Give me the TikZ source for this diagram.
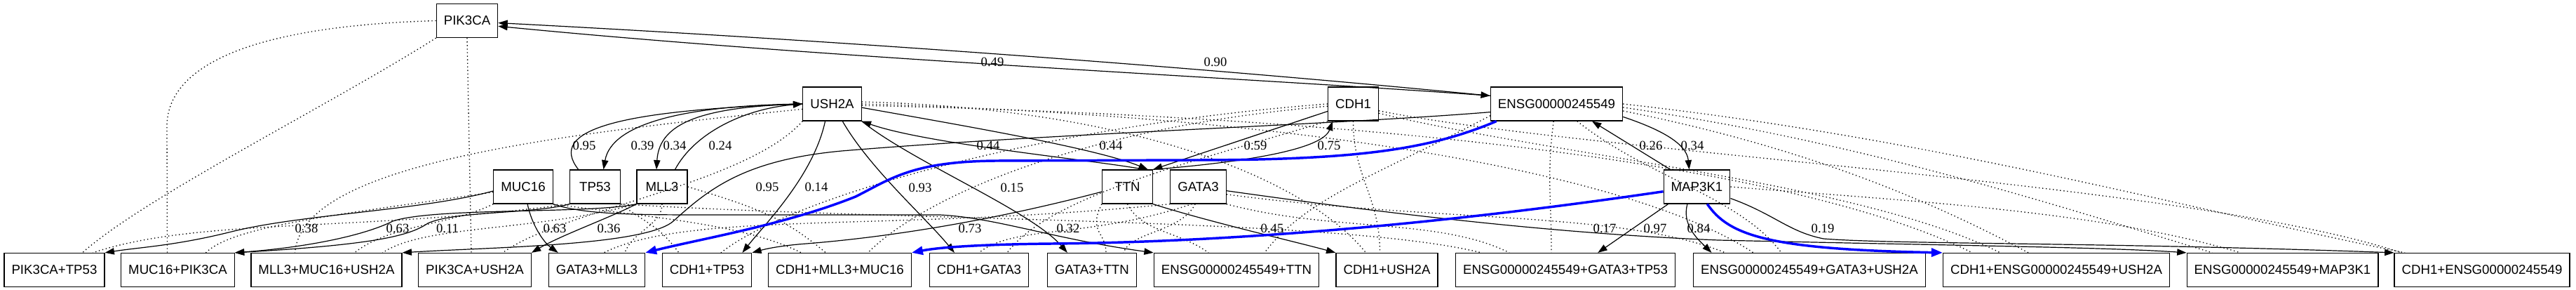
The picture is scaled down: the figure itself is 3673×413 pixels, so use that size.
\documentclass[tikz,border=0pt]{standalone}
\usepackage{fontspec}
\setmainfont{Liberation Serif}
\newfontfamily\genefont{Liberation Sans}
\usetikzlibrary{arrows.meta,calc}

\tikzset{
  gene/.style={draw, line width=0.9pt, minimum width=54pt, minimum height=36pt,
    inner xsep=7.9pt, inner ysep=0pt, font={\genefont\fontsize{14}{16}\selectfont}},
  weight/.style={inner sep=0pt, font={\fontsize{14}{16}\selectfont}},
  link/.style={line width=0.9pt, ->, >={Triangle[length=10pt,width=7pt]}},
  hit/.style={link, blue, line width=2.6pt, >={Triangle[length=12pt,width=9pt]}},
  member/.style={line width=1pt, dash pattern=on 1pt off 2.8pt}
}

\begin{document}
\begin{tikzpicture}[x=0.75pt,y=-0.75pt]
\useasboundingbox (0,0) rectangle (3673,413);

% single genes
\node[gene] (PIK3CA) at (666,29.5) {PIK3CA};
\node[gene] (USH2A) at (1186.5,148) {USH2A};
\node[gene] (CDH1) at (1929.5,148) {CDH1};
\node[gene] (ENSG) at (2219.5,148) {ENSG00000245549};
\node[gene] (MUC16) at (746,266) {MUC16};
\node[gene] (TP53) at (848.5,266) {TP53};
\node[gene] (MLL3) at (944,266) {MLL3};
\node[gene] (TTN) at (1607.5,266) {TTN};
\node[gene] (GATA3) at (1708.5,266) {GATA3};
\node[gene] (MAP3K1) at (2419.5,266) {MAP3K1};

% combinations
\node[gene] (PIK3CA+TP53) at (77.5,384.5) {PIK3CA+TP53};
\node[gene] (MUC16+PIK3CA) at (253.5,384.5) {MUC16+PIK3CA};
\node[gene] (MLL3+MUC16+USH2A) at (465.5,384.5) {MLL3+MUC16+USH2A};
\node[gene] (PIK3CA+USH2A) at (677,384.5) {PIK3CA+USH2A};
\node[gene] (GATA3+MLL3) at (851,384.5) {GATA3+MLL3};
\node[gene] (CDH1+TP53) at (1008,384.5) {CDH1+TP53};
\node[gene] (CDH1+MLL3+MUC16) at (1197.5,384.5) {CDH1+MLL3+MUC16};
\node[gene] (CDH1+GATA3) at (1396,384.5) {CDH1+GATA3};
\node[gene] (GATA3+TTN) at (1557,384.5) {GATA3+TTN};
\node[gene] (ENSG+TTN) at (1763,384.5) {ENSG00000245549+TTN};
\node[gene] (CDH1+USH2A) at (1977.5,384.5) {CDH1+USH2A};
\node[gene] (ENSG+GATA3+TP53) at (2232,384.5) {ENSG00000245549+GATA3+TP53};
\node[gene] (ENSG+GATA3+USH2A) at (2580,384.5) {ENSG00000245549+GATA3+USH2A};
\node[gene] (CDH1+ENSG+USH2A) at (2932,384.5) {CDH1+ENSG00000245549+USH2A};
\node[gene] (ENSG+MAP3K1) at (3254.5,384.5) {ENSG00000245549+MAP3K1};
\node[gene] (CDH1+ENSG) at (3539,384.5) {CDH1+ENSG00000245549};

% membership (dotted)
\draw[member] (PIK3CA.south west) .. controls +(-150,95) and +(90,-80) .. ($(PIK3CA+TP53.north)+(40,0)$);
\draw[member] (PIK3CA.west) .. controls +(-280,8) and +(0,-80) .. (238,180) -- ($(MUC16+PIK3CA.north)+(-15,0)$);
\draw[member] (PIK3CA.south) -- ($(PIK3CA+USH2A.north)+(-5,0)$);
\draw[member] (MUC16.190) .. controls +(-200,30) and +(40,-40) .. ($(MUC16+PIK3CA.north)+(40,0)$);
\draw[member] (MUC16.south west) .. controls +(-60,30) and +(50,-40) .. ($(MLL3+MUC16+USH2A.north)+(40,0)$);
\draw[member] (MUC16.south east) .. controls +(150,20) and +(-80,-40) .. ($(CDH1+MLL3+MUC16.north)+(-55,0)$);
\draw[member] (TP53.south west) .. controls +(-300,40) and +(150,-50) .. ($(PIK3CA+TP53.north)+(55,0)$);
\draw[member] (TP53.south east) .. controls +(40,30) and +(-30,-40) .. ($(CDH1+TP53.north)+(-40,0)$);
\draw[member] (TP53.south east) .. controls +(400,25) and +(-200,-50) .. ($(ENSG+GATA3+TP53.north)+(-120,0)$);
\draw[member] (MLL3.south west) .. controls +(-150,40) and +(60,-40) .. ($(MLL3+MUC16+USH2A.north)+(80,0)$);
\draw[member] (MLL3.south) .. controls +(0,30) and +(10,-30) .. ($(GATA3+MLL3.north)+(40,0)$);
\draw[member] (MLL3.east) .. controls +(100,30) and +(-60,-50) .. ($(CDH1+MLL3+MUC16.north)+(-20,0)$);
\draw[member] (USH2A.190) .. controls +(-400,40) and +(10,-120) .. ($(MLL3+MUC16+USH2A.north)+(-45,0)$);
\draw[member] (USH2A.south west) .. controls +(-80,90) and +(80,-60) .. ($(PIK3CA+USH2A.north)+(40,0)$);
\draw[member] (USH2A.4) .. controls +(400,10) and +(-80,-100) .. ($(CDH1+USH2A.north)+(-30,0)$);
\draw[member] (USH2A.0) .. controls +(700,20) and +(-150,-100) .. ($(ENSG+GATA3+USH2A.north)+(-80,0)$);
\draw[member] (USH2A.-3) .. controls +(900,20) and +(-200,-100) .. ($(CDH1+ENSG+USH2A.north)+(-120,0)$);
\draw[member] (CDH1.180) .. controls +(-400,30) and +(100,-80) .. ($(CDH1+TP53.north)+(20,0)$);
\draw[member] (CDH1.185) .. controls +(-350,30) and +(80,-80) .. ($(CDH1+MLL3+MUC16.north)+(40,0)$);
\draw[member] (CDH1.south west) .. controls +(-200,60) and +(60,-80) .. ($(CDH1+GATA3.north)+(40,0)$);
\draw[member] (CDH1.south) .. controls +(0,80) and +(0,-80) .. ($(CDH1+USH2A.north)+(-10,0)$);
\draw[member] (CDH1.-20) .. controls +(250,60) and +(-200,-100) .. ($(CDH1+ENSG+USH2A.north)+(-80,0)$);
\draw[member] (CDH1.-15) .. controls +(300,60) and +(-300,-100) .. ($(CDH1+ENSG.north)+(-115,0)$);
\draw[member] (ENSG.-170) .. controls +(-150,80) and +(60,-80) .. ($(ENSG+TTN.north)+(40,0)$);
\draw[member] (ENSG.-100) .. controls +(-10,80) and +(0,-80) .. ($(ENSG+GATA3+TP53.north)+(-20,0)$);
\draw[member] (ENSG.-40) .. controls +(100,80) and +(-60,-80) .. ($(ENSG+GATA3+USH2A.north)+(-40,0)$);
\draw[member] (ENSG.-6) .. controls +(250,50) and +(-150,-80) .. ($(CDH1+ENSG+USH2A.north)+(-40,0)$);
\draw[member] (ENSG.-3) .. controls +(350,50) and +(-200,-60) .. ($(ENSG+MAP3K1.north)+(-100,0)$);
\draw[member] (ENSG.0) .. controls +(450,50) and +(-300,-60) .. ($(CDH1+ENSG.north)+(-110,0)$);
\draw[member] (TTN.south west) .. controls +(-20,40) and +(0,-30) .. ($(GATA3+TTN.north)+(20,0)$);
\draw[member] (TTN.south) .. controls +(20,40) and +(-40,-30) .. ($(ENSG+TTN.north)+(-40,0)$);
\draw[member] (GATA3.south west) .. controls +(-400,40) and +(120,-60) .. ($(GATA3+MLL3.north)+(10,0)$);
\draw[member] (GATA3.-110) .. controls +(-150,50) and +(50,-40) .. (CDH1+GATA3.north);
\draw[member] (GATA3.-100) .. controls +(-20,40) and +(10,-30) .. ($(GATA3+TTN.north)+(45,0)$);
\draw[member] (GATA3.south east) .. controls +(150,40) and +(-100,-50) .. ($(ENSG+GATA3+TP53.north)+(-80,0)$);
\draw[member] (GATA3.-15) .. controls +(300,40) and +(-150,-60) .. ($(ENSG+GATA3+USH2A.north)+(-120,0)$);
\draw[member] (MAP3K1.east) .. controls +(250,20) and +(-200,-60) .. ($(ENSG+MAP3K1.north)+(-60,0)$);

% gene to gene
\draw[link, <->] (PIK3CA.-4) .. controls (1200,58) and (1700,95) .. (ENSG.173);
\draw[link] (ENSG.173) .. controls (1800,112) and (1200,85) .. (PIK3CA.-10);
\draw[link] (TP53.134) .. controls (780,185) and (880,158) .. (USH2A.west);
\draw[link] (USH2A.west) .. controls (980,150) and (872,175) .. (TP53.64);
\draw[link] (USH2A.west) .. controls (1000,152) and (940,175) .. (MLL3.108);
\draw[link] (MLL3.53) .. controls (990,190) and (1060,155) .. (USH2A.west);
\draw[link] (USH2A.-7) .. controls (1350,175) and (1560,210) .. (TTN.40);
\draw[link] (TTN.45) .. controls (1560,228) and (1320,205) .. (USH2A.south east);
\draw[link] (CDH1.196) -- (TTN.north east);
\draw[link] (TTN.north east) .. controls (1760,232) and (1885,215) .. (CDH1.-140);
\draw[link] (MAP3K1.147) -- (ENSG.-26);
\draw[link] (ENSG.-11) .. controls (2370,185) and (2405,205) .. (MAP3K1.114);

% gene to combination
\draw[link] (USH2A.-112) .. controls (1160,250) and (1090,320) .. (CDH1+TP53.26);
\draw[link] (USH2A.-59) .. controls (1240,240) and (1320,310) .. (CDH1+GATA3.145);
\draw[link] (USH2A.south east) .. controls (1300,230) and (1470,300) .. (GATA3+TTN.145);
\draw[link] (ENSG.187) .. controls (1900,178) and (1500,190) .. (1200,215) .. controls (1060,228) and (1010,270) .. (960,315) .. controls (920,350) and (700,352) .. (MLL3+MUC16+USH2A.north east);
\draw[link] (MUC16.188) .. controls (600,300) and (430,305) .. (330,330) .. controls (250,350) and (200,352) .. (PIK3CA+TP53.north east);
\draw[link] (MLL3.south west) .. controls (840,305) and (620,295) .. (560,315) .. controls (520,335) and (440,352) .. (MUC16+PIK3CA.north east);
\draw[link] (TP53.south west) .. controls (760,305) and (650,300) .. (610,318) .. controls (585,335) and (540,348) .. (MUC16+PIK3CA.north east);
\draw[link] (MUC16.-76) .. controls (758,320) and (775,345) .. (GATA3+MLL3.156);
\draw[link] (MLL3.south west) .. controls (870,310) and (800,335) .. (PIK3CA+USH2A.north east);
\draw[link] (MUC16.south east) .. controls (830,305) and (900,306) .. (1000,306) -- (1340,306) .. controls (1420,310) and (1500,340) .. (ENSG+TTN.north west);
\draw[link] (TTN.191) .. controls (1450,305) and (1300,335) .. (1150,347) .. controls (1110,350) and (1090,355) .. (CDH1+TP53.north east);
\draw[link] (TTN.south east) .. controls (1720,315) and (1850,345) .. (CDH1+USH2A.north west);
\draw[link] (GATA3.-8) .. controls (1950,300) and (2200,332) .. (2450,342) .. controls (2800,350) and (3000,352) .. (ENSG+MAP3K1.north west);
\draw[link] (MAP3K1.-149) -- (ENSG+GATA3+TP53.28);
\draw[link] (MAP3K1.-119) .. controls (2398,320) and (2420,340) .. (ENSG+GATA3+USH2A.170);
\draw[link] (MAP3K1.-19) .. controls (2530,305) and (2550,330) .. (2600,340) .. controls (2700,348) and (3000,345) .. (CDH1+ENSG.north west);

% best path
\draw[hit] (ENSG.-164) .. controls (2040,212) and (1940,228) .. (1700,228) -- (1420,229) .. controls (1300,230) and (1270,255) .. (1220,280) .. controls (1120,320) and (1000,340) .. (GATA3+MLL3.north east);
\draw[hit] (MAP3K1.188) .. controls (2050,320) and (1750,345) .. (1500,347) .. controls (1400,348) and (1340,352) .. (CDH1+MLL3+MUC16.north east);
\draw[hit] (MAP3K1.-59) .. controls (2465,335) and (2520,355) .. (CDH1+ENSG+USH2A.north west);

% weights
\node[weight] (w49) at (1415,88) {0.49};
\node[weight] (w90) at (1733,88) {0.90};
\node[weight] (w95a) at (833,207) {0.95};
\node[weight] (w39) at (916,207) {0.39};
\node[weight] (w34a) at (962,207) {0.34};
\node[weight] (w24) at (1027,207) {0.24};
\node[weight] (w44a) at (1409,207) {0.44};
\node[weight] (w44b) at (1584,207) {0.44};
\node[weight] (w59) at (1790,207) {0.59};
\node[weight] (w75) at (1895,207) {0.75};
\node[weight] (w26) at (2354,207) {0.26};
\node[weight] (w34b) at (2413,207) {0.34};
\node[weight] (w95b) at (1094,266) {0.95};
\node[weight] (w14) at (1164,266) {0.14};
\node[weight] (w93) at (1312,267) {0.93};
\node[weight] (w15) at (1443,267) {0.15};
\node[weight] (w38) at (437,325) {0.38};
\node[weight] (w63a) at (567,325) {0.63};
\node[weight] (w11) at (638,325) {0.11};
\node[weight] (w63b) at (791,325) {0.63};
\node[weight] (w36) at (868,325) {0.36};
\node[weight] (w73) at (1383,325) {0.73};
\node[weight] (w32) at (1523,325) {0.32};
\node[weight] (w45) at (1814,325) {0.45};
\node[weight] (w17) at (2288,325) {0.17};
\node[weight] (w97) at (2360,325) {0.97};
\node[weight] (w84) at (2422,325) {0.84};
\node[weight] (w19) at (2599,325) {0.19};
\end{tikzpicture}
\end{document}
